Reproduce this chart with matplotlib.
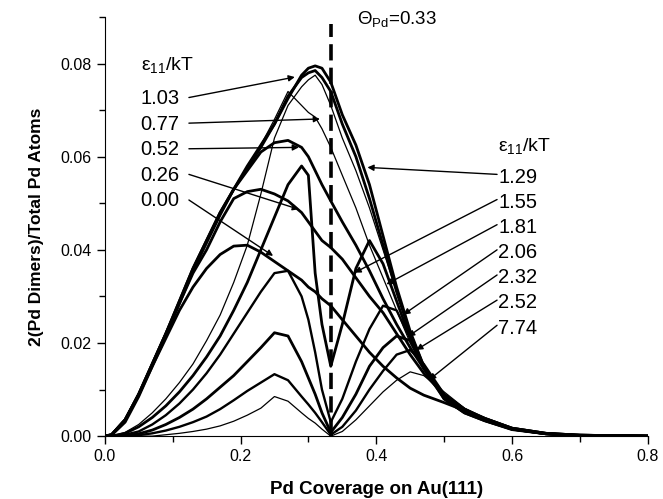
import matplotlib
matplotlib.use('Agg')
import matplotlib.pyplot as plt
from matplotlib.ticker import MultipleLocator, FormatStrFormatter

plt.rcParams['font.family'] = ['Liberation Sans', 'DejaVu Sans']
plt.rcParams['mathtext.fontset'] = 'custom'
plt.rcParams['mathtext.rm'] = 'Liberation Sans'
plt.rcParams['mathtext.it'] = 'Liberation Sans'

# coverage grid shared by all curves
theta = [0, 0.01, 0.03, 0.05, 0.07, 0.09, 0.11, 0.13, 0.15, 0.17, 0.19, 0.21, 0.23, 0.25,
         0.27, 0.29, 0.30, 0.31, 0.32, 0.333, 0.35, 0.37, 0.39, 0.41, 0.43, 0.45, 0.47,
         0.50, 0.53, 0.56, 0.60, 0.65, 0.70, 0.80]

# dimer fraction, one list per eps11/kT
y_000 = [0, 0.0003, 0.0035, 0.0088, 0.015, 0.021, 0.027, 0.032, 0.036, 0.039, 0.0408, 0.041,
         0.0395, 0.0375, 0.0355, 0.0335, 0.032, 0.031, 0.0295, 0.028, 0.025, 0.0215, 0.018,
         0.015, 0.0125, 0.0103, 0.0088, 0.0072, 0.0055, 0.0038, 0.0017, 0.0006, 0.0002, 0]
y_026 = [0, 0.0003, 0.0035, 0.009, 0.0155, 0.022, 0.0285, 0.035, 0.040, 0.046, 0.051, 0.0525,
         0.053, 0.052, 0.0505, 0.048, 0.046, 0.044, 0.042, 0.0405, 0.038, 0.034, 0.030, 0.0265,
         0.022, 0.0175, 0.0135, 0.0088, 0.0058, 0.0038, 0.0017, 0.0006, 0.0002, 0]
y_052 = [0, 0.0003, 0.0035, 0.009, 0.0155, 0.022, 0.029, 0.036, 0.042, 0.048, 0.053, 0.057,
         0.061, 0.063, 0.0635, 0.062, 0.060, 0.057, 0.054, 0.0505, 0.046, 0.041, 0.0355, 0.0295,
         0.024, 0.019, 0.0145, 0.009, 0.0058, 0.0038, 0.0017, 0.0006, 0.0002, 0]
y_077 = [0, 0.0003, 0.0033, 0.0085, 0.015, 0.0215, 0.0285, 0.0355, 0.0415, 0.0475, 0.053, 0.058,
         0.0625, 0.068, 0.074, 0.071, 0.0695, 0.0685, 0.066, 0.062, 0.056, 0.049, 0.041, 0.034,
         0.027, 0.020, 0.0145, 0.0085, 0.0055, 0.0036, 0.0016, 0.0005, 0.0002, 0]
y_103 = [0, 0.0003, 0.0035, 0.009, 0.0155, 0.022, 0.029, 0.036, 0.042, 0.048, 0.053, 0.058,
         0.0625, 0.067, 0.073, 0.077, 0.078, 0.0785, 0.077, 0.074, 0.067, 0.060, 0.051, 0.041,
         0.031, 0.022, 0.015, 0.0085, 0.0055, 0.0036, 0.0016, 0.0005, 0.0002, 0]
y_129 = [0, 0.0002, 0.003, 0.0085, 0.015, 0.0215, 0.0285, 0.0355, 0.0415, 0.0475, 0.053, 0.0575,
         0.062, 0.067, 0.0725, 0.0775, 0.079, 0.0795, 0.079, 0.076, 0.069, 0.0625, 0.054, 0.043,
         0.032, 0.0225, 0.015, 0.008, 0.005, 0.0033, 0.0014, 0.0005, 0.0001, 0]
y_155 = [0, 0, 0.0008, 0.0025, 0.005, 0.008, 0.0115, 0.0155, 0.0205, 0.026, 0.033, 0.041,
         0.052, 0.064, 0.071, 0.075, 0.0765, 0.0775, 0.0755, 0.071, 0.064, 0.057, 0.049, 0.040,
         0.031, 0.022, 0.015, 0.0085, 0.0055, 0.0036, 0.0016, 0.0005, 0.0002, 0]
y_181 = [0, 0, 0.0006, 0.002, 0.004, 0.0065, 0.0095, 0.013, 0.017, 0.0215, 0.027, 0.033,
         0.040, 0.047, 0.054, 0.058, 0.056, 0.035, 0.024, 0.015, 0.024, 0.036, 0.042, 0.037,
         0.029, 0.021, 0.0145, 0.008, 0.005, 0.0033, 0.0015, 0.0005, 0.0001, 0]
y_206 = [0, 0, 0.0003, 0.001, 0.0025, 0.0045, 0.007, 0.010, 0.0135, 0.0175, 0.022, 0.0265,
         0.031, 0.035, 0.0355, 0.030, 0.025, 0.018, 0.010, 0.003, 0.008, 0.016, 0.023, 0.028,
         0.027, 0.021, 0.015, 0.0085, 0.0052, 0.0034, 0.0015, 0.0005, 0.0001, 0]
y_232 = [0, 0, 0.0001, 0.0005, 0.0013, 0.0025, 0.004, 0.0058, 0.008, 0.0105, 0.013, 0.016,
         0.019, 0.0222, 0.0215, 0.016, 0.0125, 0.009, 0.005, 0.0008, 0.004, 0.009, 0.015, 0.019,
         0.0215, 0.0205, 0.015, 0.0085, 0.0052, 0.0034, 0.0015, 0.0005, 0.0001, 0]
y_252 = [0, 0, 0, 0.0002, 0.0006, 0.0012, 0.002, 0.003, 0.0042, 0.0058, 0.0077, 0.0097,
         0.0115, 0.0133, 0.012, 0.0085, 0.0068, 0.005, 0.003, 0.0003, 0.002, 0.0055, 0.010, 0.014,
         0.0175, 0.0185, 0.0155, 0.009, 0.0055, 0.0035, 0.0015, 0.0005, 0.0001, 0]
y_774 = [0, 0, 0, 0, 0, 0.0003, 0.0006, 0.001, 0.0015, 0.0022, 0.0032, 0.0045,
         0.006, 0.0085, 0.0075, 0.005, 0.0038, 0.0028, 0.0015, 0, 0.001, 0.0035, 0.0065, 0.0095,
         0.012, 0.0138, 0.013, 0.0095, 0.006, 0.0037, 0.0015, 0.0005, 0.0001, 0]

curves = [y_000, y_026, y_052, y_077, y_103, y_129, y_155, y_181, y_206, y_232, y_252, y_774]
widths = [2.0, 2.0, 2.0, 0.9, 2.0, 2.0, 0.9, 2.0, 1.7, 2.0, 1.7, 0.9]

left_labels = ['1.03', '0.77', '0.52', '0.26', '0.00']
left_tips = [(0.28, 0.0771), (0.317, 0.0681), (0.286, 0.062), (0.286, 0.0487), (0.248, 0.0387)]
right_labels = ['1.29', '1.55', '1.81', '2.06', '2.32', '2.52', '7.74']
right_tips = [(0.387, 0.0577), (0.368, 0.0351), (0.415, 0.0326), (0.44, 0.0261),
              (0.447, 0.0214), (0.459, 0.0185), (0.478, 0.0121)]

fig = plt.figure(figsize=(6.63, 4.99), dpi=100)
ax = fig.add_axes([0.158, 0.126, 0.819, 0.840])

for y, lw in zip(curves, widths):
    ax.plot(theta, y, color='black', lw=lw, solid_joinstyle='round')

ax.plot([0.333, 0.333], [0, 0.0885], color='black', lw=2.6, dashes=(4.5, 2))

ax.set_xlim(0, 0.8)
ax.set_ylim(0, 0.09)
ax.spines['top'].set_visible(False)
ax.spines['right'].set_visible(False)
ax.xaxis.set_major_locator(MultipleLocator(0.2))
ax.xaxis.set_minor_locator(MultipleLocator(0.1))
ax.yaxis.set_major_locator(MultipleLocator(0.02))
ax.yaxis.set_minor_locator(MultipleLocator(0.01))
ax.xaxis.set_major_formatter(FormatStrFormatter('%.1f'))
ax.yaxis.set_major_formatter(FormatStrFormatter('%.2f'))
ax.tick_params(which='major', direction='out', length=6, width=1, labelsize=11.5)
ax.tick_params(which='minor', direction='out', length=4, width=1)
ax.set_xlabel('Pd Coverage on Au(111)', fontsize=13.5, fontweight='bold', labelpad=12)
ax.set_ylabel('2(Pd Dimers)/Total Pd Atoms', fontsize=12.5, fontweight='bold', labelpad=12)

arrow = dict(arrowstyle='-|>', color='black', lw=1, mutation_scale=9, shrinkA=0, shrinkB=0)
ax.text(0.054, 0.0786, r'ε$_{11}$/kT', fontsize=14)
for i, (lab, tip) in enumerate(zip(left_labels, left_tips)):
    yl = 0.0725 - i * 0.0055
    ax.text(0.052, yl, lab, fontsize=14.5, va='center')
    ax.annotate('', xy=tip, xytext=(0.124, yl + 0.0002), arrowprops=arrow)

ax.text(0.579, 0.0612, r'ε$_{11}$/kT', fontsize=14)
for i, (lab, tip) in enumerate(zip(right_labels, right_tips)):
    yl = 0.0556 - i * 0.0054
    ax.text(0.580, yl, lab, fontsize=14.5, va='center')
    ax.annotate('', xy=tip, xytext=(0.578, yl + 0.0006), arrowprops=arrow)

ax.text(0.371, 0.0885, r'Θ$_{Pd}$=0.33', fontsize=13.5)

fig.savefig('out.png', dpi=100)
